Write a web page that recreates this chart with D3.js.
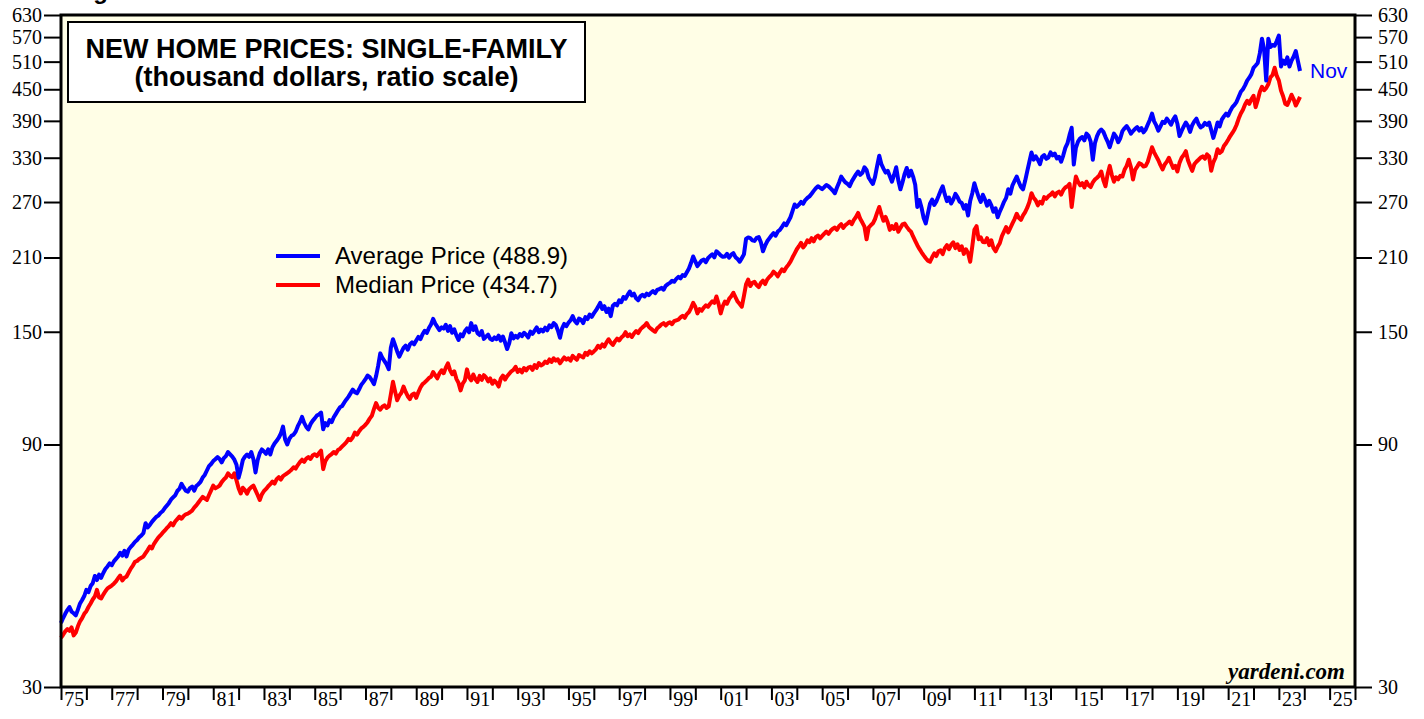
<!DOCTYPE html>
<html>
<head>
<meta charset="utf-8">
<script src="https://cdn.jsdelivr.net/npm/d3@7"></script>
<style>
  body { margin: 0; background: #fff; }
  svg { display: block; }
</style>
</head>
<body>
<div id="chart"></div>
<script>
// Monthly new home prices, thousand dollars, Jan 1975 - Nov 2023
var startYear = 1975;
var lastMonth = "Nov";

var averagePrice = [
  40.1, 41.0, 41.8, 42.5, 43.1, 42.2, 41.9, 41.5, 42.6, 43.8, 44.5, 45.3,
  46.6, 46.1, 47.4, 48.0, 49.6, 48.7, 49.9, 49.2, 50.3, 51.2, 51.8, 52.5,
  52.1, 53.0, 53.6, 54.2, 55.1, 54.4, 55.6, 54.2, 55.9, 56.6, 57.2, 57.9,
  58.4, 59.1, 59.6, 60.3, 63.0, 61.8, 62.5, 63.4, 64.1, 64.8, 65.2, 66.0,
  66.5, 67.4, 68.2, 69.0, 70.1, 70.8, 71.5, 72.9, 73.6, 75.3, 74.1, 73.0,
  72.7, 73.9, 74.4, 73.0, 74.6, 75.2, 76.0, 77.5, 78.4, 80.0, 81.6, 82.4,
  83.5, 84.2, 85.0, 84.3, 83.0, 84.6, 85.4, 87.0, 86.1, 85.2, 84.0, 82.1,
  77.4, 80.3, 83.9, 85.2, 86.0, 85.1, 87.0, 84.2, 79.3, 83.8, 86.5, 88.0,
  87.2, 86.3, 88.1, 86.0, 88.9, 90.4, 91.5, 92.8, 94.6, 97.6, 92.1, 90.0,
  92.4, 93.6, 94.1, 95.4, 97.8, 99.6, 102.0, 99.3, 97.5, 96.4, 98.7, 100.2,
  101.3, 102.6, 103.1, 104.0, 96.4, 99.2, 98.1, 100.5, 99.6, 101.8, 103.4, 105.1,
  106.6, 107.2, 108.9, 110.4, 111.8, 113.6, 115.4, 114.1, 113.5, 115.6, 117.9, 119.4,
  121.0, 123.0, 122.1, 120.4, 118.3, 122.6, 128.5, 136.0, 133.2, 131.3, 129.4, 126.6,
  139.5, 145.0, 141.1, 137.2, 134.0, 136.8, 139.4, 140.8, 138.3, 141.6, 143.0, 141.7,
  144.2, 146.5, 145.1, 148.3, 150.7, 149.2, 152.5, 155.0, 159.0, 155.6, 153.4, 151.1,
  153.0, 152.2, 154.8, 150.6, 153.9, 149.3, 151.7, 147.5, 144.5, 148.2, 146.9, 150.4,
  152.3, 149.6, 156.0, 151.2, 153.8, 149.0, 147.8, 150.5, 145.2, 146.7, 148.1, 145.3,
  144.5, 146.2, 145.0, 147.4, 144.1, 146.8, 143.0, 138.7, 142.5, 149.0, 145.6, 147.2,
  146.1, 148.5, 147.0, 149.3, 148.0, 146.2, 150.1, 148.6, 150.8, 153.0, 149.7, 151.5,
  150.2, 152.8, 151.0, 154.4, 153.2, 156.0, 154.7, 150.9, 146.0, 152.3, 155.4, 153.8,
  156.2, 158.0, 161.0, 157.5, 155.8, 159.2, 158.4, 156.0, 160.3, 158.9, 162.1, 160.5,
  163.0, 165.2, 167.9, 171.0, 166.3, 168.4, 164.0, 166.5, 161.0, 168.8, 170.2, 169.1,
  173.0, 171.5, 175.6, 174.2, 177.3, 180.0, 176.8, 178.2, 174.5, 173.0, 176.1, 177.4,
  176.0, 178.3, 177.1, 179.0, 180.4, 178.6, 181.3, 182.0, 183.0, 181.5, 184.7, 186.1,
  187.2, 189.0, 188.1, 190.6, 192.3, 191.0, 194.0, 193.2, 196.5, 199.8, 205.0, 211.0,
  206.3, 202.0, 204.5, 207.1, 208.0, 205.6, 209.3, 211.4, 213.0, 210.2, 216.0, 214.1,
  212.0, 210.6, 211.0, 213.5, 209.8, 212.7, 214.1, 210.3, 208.5, 206.0, 209.4, 213.0,
  228.5, 230.0, 229.2, 227.0, 226.4, 229.6, 230.4, 225.1, 216.0, 221.5, 226.0, 229.0,
  232.0, 234.5, 231.8, 236.2, 238.0, 241.3, 245.0, 243.1, 247.5, 252.0, 259.4, 267.0,
  264.2, 266.8, 270.1, 268.0, 272.4, 275.0, 277.0, 280.3, 284.0, 287.5, 290.0, 288.2,
  286.1, 289.0, 291.5, 290.0, 287.2, 284.5, 281.0, 288.4, 295.0, 303.0, 298.6, 295.1,
  293.0, 290.0, 296.5, 301.2, 306.0, 310.0, 305.3, 308.1, 316.0, 312.2, 301.4, 297.0,
  293.0, 302.5, 318.0, 333.0, 320.4, 314.2, 308.5, 311.0, 303.5, 296.0, 305.2, 316.0,
  298.0, 286.0, 295.3, 306.8, 315.0, 303.2, 311.1, 303.0, 292.0, 264.0, 272.5, 263.1,
  251.0, 245.0, 256.5, 268.0, 273.0, 266.4, 270.8, 277.1, 284.0, 290.0, 279.5, 271.0,
  275.5, 268.2, 273.0, 280.1, 276.0, 270.5, 268.8, 262.0, 266.4, 254.0, 271.2, 281.0,
  294.0, 284.5, 276.2, 270.0, 279.1, 273.0, 265.5, 271.4, 266.0, 258.3, 262.5, 252.0,
  258.6, 264.0, 270.2, 275.1, 286.0, 280.4, 291.2, 297.0, 303.0, 295.5, 289.1, 286.0,
  297.2, 310.5, 324.0, 338.0, 327.1, 332.2, 327.0, 320.5, 331.4, 334.0, 328.3, 330.2,
  338.0, 333.5, 336.2, 329.0, 331.4, 324.0, 333.2, 345.1, 352.0, 366.0, 378.0, 320.0,
  345.2, 355.0, 360.3, 362.5, 357.0, 368.1, 364.2, 355.0, 327.0, 352.3, 364.0, 371.5,
  375.0, 371.0, 362.4, 355.1, 346.0, 357.2, 368.0, 363.1, 354.0, 360.5, 372.3, 377.0,
  381.0, 375.2, 368.0, 372.4, 376.1, 379.0, 373.2, 377.5, 370.3, 375.0, 383.5, 392.0,
  403.0, 389.1, 382.0, 373.0, 380.2, 388.5, 386.3, 394.0, 389.0, 383.2, 392.1, 398.0,
  385.0, 364.0, 372.5, 380.2, 387.0, 381.3, 371.0, 382.4, 389.1, 394.0, 384.2, 378.5,
  381.0, 386.4, 383.1, 387.0, 374.2, 361.0, 372.5, 387.0, 380.2, 392.1, 398.0, 403.0,
  399.2, 408.0, 415.0, 419.3, 425.1, 435.0, 445.0, 450.2, 458.0, 468.0, 474.3, 482.0,
  496.0, 501.2, 507.0, 530.0, 566.0, 540.0, 468.0, 566.0, 545.0, 550.0, 548.0, 560.0,
  574.0, 499.0, 512.3, 505.0, 520.0, 499.0, 512.5, 522.0, 535.0, 511.1, 488.9
];

var medianPrice = [
  37.5, 38.0, 38.6, 39.0, 38.7, 39.3, 37.9, 38.4, 39.5, 40.4, 41.0, 41.8,
  42.3, 43.1, 43.8, 44.6, 45.2, 46.6, 45.0, 44.8, 45.6, 46.3, 46.9, 47.2,
  47.5, 47.9, 48.4, 49.1, 49.7, 48.6, 49.2, 49.5, 50.4, 51.3, 52.0, 52.9,
  53.1, 53.6, 53.9, 54.2, 55.0, 55.8, 56.7, 56.2, 57.4, 58.2, 59.0, 59.6,
  60.3, 60.9, 61.6, 62.2, 63.0, 62.4, 63.5, 64.2, 64.9, 64.3, 65.1, 65.6,
  65.8, 66.2, 66.7, 67.6, 68.3, 69.2, 70.1, 71.0, 70.5, 70.0, 71.6, 73.1,
  74.7, 73.8, 74.2, 74.7, 75.9, 76.8, 77.5, 79.0, 78.1, 77.6, 79.0, 76.5,
  73.8, 72.1, 74.0, 73.2, 72.0, 73.5, 74.2, 74.7, 73.1, 71.6, 70.0, 71.8,
  72.9, 73.6, 74.5, 75.2, 76.1, 75.4, 76.9, 77.6, 76.8, 78.0, 78.5, 79.0,
  79.6, 80.3, 81.2, 80.7, 82.0, 83.1, 84.0, 83.2, 84.4, 85.0, 84.3, 85.6,
  86.1, 85.4, 86.6, 87.5, 80.5, 83.4, 84.8, 85.6, 86.2, 87.0, 86.4, 87.8,
  88.3, 89.2, 90.1, 91.0, 92.3, 91.8, 93.0, 95.0, 94.1, 95.6, 96.8, 97.5,
  98.4, 99.6, 101.2, 102.5, 105.6, 108.6, 106.3, 105.4, 106.8, 107.5, 106.2, 107.0,
  113.0, 119.6, 114.5, 110.0, 112.3, 113.8, 117.0, 114.2, 112.0, 110.5, 112.8, 113.4,
  111.2, 114.0, 116.5, 118.3, 119.2, 120.4, 121.6, 122.3, 125.0, 123.1, 121.5, 124.2,
  126.0, 124.3, 127.5, 130.0, 126.1, 123.8, 125.4, 121.2, 119.0, 115.0, 118.6, 120.3,
  126.5, 122.0, 120.4, 123.6, 121.0, 119.5, 122.8, 120.6, 123.2, 122.0, 119.8, 121.4,
  118.5, 120.2, 119.0, 117.0, 121.3, 123.0, 120.8, 122.6, 124.0, 125.4, 126.2, 128.0,
  125.0, 126.4, 124.8, 127.3, 125.9, 127.5, 128.0, 126.2, 129.0, 127.4, 130.2, 128.8,
  129.5, 131.0, 130.2, 132.3, 130.8, 133.0, 131.6, 132.4, 130.0, 131.8, 133.5, 132.2,
  133.0, 131.6, 134.5, 133.2, 132.1, 135.0, 134.2, 133.5, 136.4, 135.1, 137.3, 136.0,
  137.2, 138.5, 140.8, 139.5, 141.6, 140.2, 143.0, 145.0, 142.8, 141.3, 143.6, 145.4,
  144.2, 146.1, 147.3, 149.7, 147.0, 148.2, 146.5, 148.8, 150.5, 149.1, 151.6, 153.0,
  154.2, 156.0, 153.4, 152.1, 151.0, 150.0, 152.4, 153.6, 155.1, 156.0, 154.3, 155.8,
  156.6, 155.2, 157.4, 158.0, 158.5, 160.1, 161.3, 159.8, 162.5, 164.0, 167.2, 171.0,
  168.0, 163.0, 166.2, 165.0, 167.4, 169.1, 168.0, 170.3, 172.1, 171.0, 176.0, 170.2,
  163.0, 168.5, 172.0, 170.3, 174.1, 176.2, 179.0, 175.4, 172.0, 170.1, 168.0, 176.5,
  186.0, 190.0, 184.5, 187.2, 188.0, 185.3, 183.6, 187.1, 189.0, 186.2, 190.1, 192.3,
  194.0, 197.0, 195.2, 192.8, 196.1, 199.0, 197.4, 200.6, 203.1, 206.0, 210.2, 214.0,
  218.0, 221.0, 224.3, 219.8, 222.5, 227.0, 225.1, 229.2, 226.0, 230.4, 232.0, 229.1,
  231.5, 234.0, 236.2, 233.8, 237.0, 239.2, 240.5, 238.0, 242.0, 244.3, 240.1, 243.2,
  245.0, 247.1, 244.3, 249.0, 252.3, 257.0, 250.2, 246.0, 241.5, 228.0, 240.4, 243.0,
  245.2, 250.0, 257.3, 264.0, 255.1, 248.0, 252.4, 246.0, 238.0, 242.1, 239.0, 244.3,
  236.0, 240.2, 244.0, 245.0, 241.3, 238.2, 236.1, 231.0, 226.4, 222.0, 218.3, 215.0,
  212.0, 209.3, 207.0, 206.0, 210.2, 214.0, 211.4, 216.0, 217.0, 213.2, 219.1, 222.0,
  218.0, 222.4, 225.0, 219.1, 223.0, 217.2, 221.0, 213.4, 218.0, 214.2, 206.0, 221.0,
  238.0, 242.0, 228.1, 230.0, 225.3, 225.0, 229.2, 222.1, 227.0, 219.3, 216.0, 220.4,
  224.0, 231.3, 236.0, 241.0, 235.2, 240.0, 245.1, 250.0, 256.0, 251.3, 249.0, 254.2,
  258.0, 263.1, 270.0, 281.0, 275.2, 272.0, 266.0, 270.3, 268.1, 276.0, 274.0, 277.2,
  279.0, 282.1, 277.0, 281.4, 283.0, 279.2, 285.0, 288.3, 290.0, 293.0, 264.0, 285.2,
  303.0, 296.0, 291.2, 294.0, 288.4, 296.0, 291.3, 289.0, 295.2, 299.0, 301.4, 304.3,
  310.0, 298.0, 290.0, 306.2, 318.0, 305.1, 296.0, 302.1, 299.3, 304.0, 303.0, 312.5,
  318.0, 327.0, 316.2, 299.0, 312.4, 317.0, 322.0, 320.3, 317.1, 318.0, 324.2, 335.0,
  346.0, 338.1, 332.0, 326.3, 319.0, 313.0, 320.1, 324.2, 330.0, 322.1, 315.0, 318.2,
  310.0, 322.4, 330.0, 334.2, 340.0, 326.1, 318.2, 311.0, 320.3, 324.0, 327.0, 330.2,
  332.0, 328.4, 335.0, 332.0, 311.0, 323.2, 330.0, 343.0, 337.2, 340.0, 348.0, 352.4,
  358.0, 364.0, 369.2, 375.0, 383.2, 394.0, 403.1, 410.2, 420.0, 427.0, 421.3, 430.2,
  437.0, 415.0, 428.2, 445.0, 455.0, 448.0, 452.3, 460.2, 475.0, 480.0, 496.0, 478.0,
  468.0, 447.2, 436.0, 421.4, 419.0, 428.2, 439.0, 430.1, 418.0, 426.0, 434.7
];

var yTicks = [30, 90, 150, 210, 270, 330, 390, 450, 510, 570, 630];
var xYears = d3.range(1975, 2027);

// Layout
var W = 1424, H = 719;
var margin = { top: 15, right: 69, bottom: 32, left: 61 },
    width = W - margin.left - margin.right,
    height = H - margin.top - margin.bottom;

var svg = d3.select("#chart").append("svg")
    .attr("width", W)
    .attr("height", H);

var sans = "Liberation Sans, Arial, sans-serif";
var serif = "Liberation Serif, Times New Roman, serif";

// heading cut off by the top edge (only the descender shows)
svg.append("text")
    .attr("x", 72).attr("y", -1)
    .style("font-family", sans)
    .style("font-weight", "bold")
    .style("font-size", "24px")
    .text("Figure");

var g = svg.append("g")
    .attr("transform", "translate(" + margin.left + "," + margin.top + ")");

var x = d3.scaleLinear().domain([1975, 2026]).range([0, width]);
var y = d3.scaleLog().domain([30, 630]).range([height, 0]);

// plot background
g.append("rect")
    .attr("width", width).attr("height", height)
    .attr("fill", "#fffee6");

function styleAxis(sel) {
    sel.select(".domain").remove();
    sel.selectAll("line").attr("stroke", "#000").attr("stroke-width", 2);
    sel.selectAll("text")
        .style("font-family", serif)
        .style("font-size", "20px")
        .attr("fill", "#000");
}

// Left & right axes
g.append("g")
    .attr("transform", "translate(-1,0)")
    .call(d3.axisLeft(y).tickValues(yTicks).tickFormat(d3.format("d")).tickSize(16).tickPadding(2))
    .call(styleAxis);

g.append("g")
    .attr("transform", "translate(" + (width + 1) + ",0)")
    .call(d3.axisRight(y).tickValues(yTicks).tickFormat(d3.format("d")).tickSize(16).tickPadding(6))
    .call(styleAxis);

// Bottom axis: a tick at each year, labels on odd years centred in the year
g.append("g")
    .attr("transform", "translate(0," + (height + 1) + ")")
    .call(d3.axisBottom(x).tickValues(xYears).tickFormat("").tickSize(12))
    .call(styleAxis);

g.append("g")
    .attr("transform", "translate(0," + (height + 1) + ")")
    .call(d3.axisBottom(x)
        .tickValues(xYears.filter(function(d) { return d % 2 === 1; }).map(function(d) { return d + 0.5; }))
        .tickFormat(function(d) { return d3.format("02d")(Math.floor(d) % 100); })
        .tickSize(0).tickPadding(4))
    .call(styleAxis);

// Lines
var line = d3.line()
    .x(function(d, i) { return x(startYear + i / 12); })
    .y(function(d) { return y(d); });

g.append("path")
    .datum(medianPrice)
    .attr("fill", "none")
    .attr("stroke", "#ff0000")
    .attr("stroke-width", 4)
    .attr("stroke-linejoin", "round")
    .attr("d", line);

g.append("path")
    .datum(averagePrice)
    .attr("fill", "none")
    .attr("stroke", "#0000ff")
    .attr("stroke-width", 4)
    .attr("stroke-linejoin", "round")
    .attr("d", line);

// "Nov" label at end of average line
var lastAvg = averagePrice[averagePrice.length - 1];
g.append("text")
    .attr("x", x(startYear + (averagePrice.length - 1) / 12) + 10)
    .attr("y", y(lastAvg))
    .attr("dy", "0.35em")
    .attr("fill", "#0000ff")
    .style("font-family", sans)
    .style("font-size", "21px")
    .text(lastMonth);

// Plot frame
g.append("rect")
    .attr("width", width).attr("height", height)
    .attr("fill", "none")
    .attr("stroke", "#000")
    .attr("stroke-width", 3);

// Title box
var boxW = 517;
g.append("rect")
    .attr("x", 7).attr("y", 7)
    .attr("width", boxW).attr("height", 80)
    .attr("fill", "#fff")
    .attr("stroke", "#000")
    .attr("stroke-width", 2);

var title = g.append("text")
    .attr("text-anchor", "middle")
    .style("font-family", sans)
    .style("font-weight", "bold")
    .style("font-size", "27px");
title.append("tspan").attr("x", 7 + boxW / 2).attr("y", 43).text("NEW HOME PRICES: SINGLE-FAMILY");
title.append("tspan").attr("x", 7 + boxW / 2).attr("y", 71).text("(thousand dollars, ratio scale)");

// Legend
var legend = [
    { label: "Average Price (" + d3.format(".1f")(averagePrice[averagePrice.length - 1]) + ")", color: "#0000ff" },
    { label: "Median Price (" + d3.format(".1f")(medianPrice[medianPrice.length - 1]) + ")", color: "#ff0000" }
];
var lg = g.append("g").attr("transform", "translate(215,241)");
legend.forEach(function(d, i) {
    lg.append("line")
        .attr("x1", 0).attr("x2", 44)
        .attr("y1", i * 29).attr("y2", i * 29)
        .attr("stroke", d.color).attr("stroke-width", 4);
    lg.append("text")
        .attr("x", 59).attr("y", i * 29)
        .attr("dy", "0.35em")
        .style("font-family", sans)
        .style("font-size", "24px")
        .attr("fill", "#000")
        .text(d.label);
});

// Source
g.append("text")
    .attr("x", width - 10).attr("y", height - 8)
    .attr("text-anchor", "end")
    .style("font-family", serif)
    .style("font-weight", "bold")
    .style("font-style", "italic")
    .style("font-size", "23px")
    .text("yardeni.com");
</script>
</body>
</html>
